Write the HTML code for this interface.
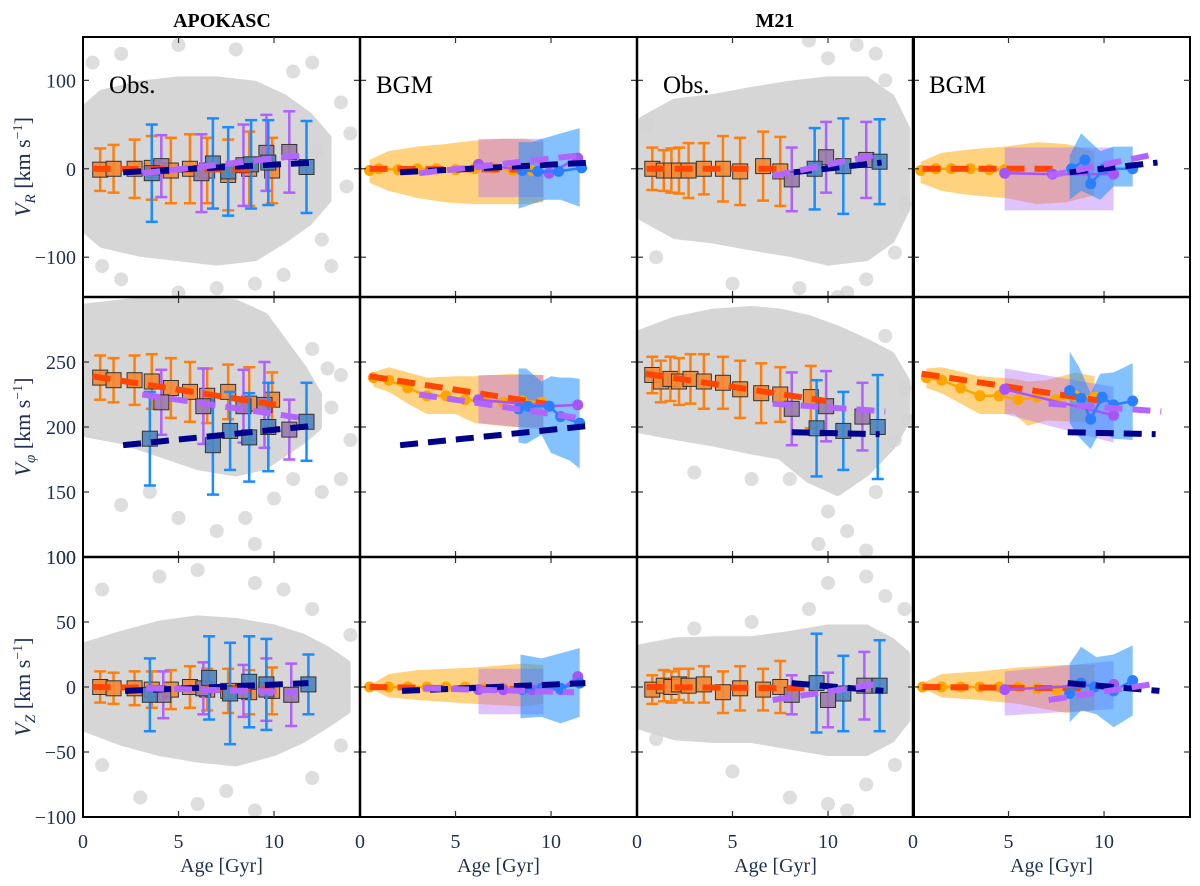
<!DOCTYPE html>
<html><head><meta charset="utf-8"><style>
html,body{margin:0;padding:0;background:#fff;}
svg{display:block;font-family:"Liberation Serif",serif;}
</style></head><body>
<svg id="fig" width="1200" height="886" viewBox="0 0 1200 886" xmlns="http://www.w3.org/2000/svg" font-family="Liberation Serif, serif">
<defs id="defs"></defs>
<g id="panels"></g>
<g id="frames"></g>
<g id="labels" fill="#1f3050" font-size="20">
 <text x="222" y="27" text-anchor="middle" font-weight="bold" fill="#000">APOKASC</text>
 <text x="775" y="27" text-anchor="middle" font-weight="bold" fill="#000">M21</text>
 <text transform="translate(30,167) rotate(-90)" text-anchor="middle" font-size="22"><tspan font-style="italic">V</tspan><tspan font-style="italic" font-size="15" dy="5">R</tspan><tspan dy="-5"> [km s</tspan><tspan font-size="14" dy="-8">−1</tspan><tspan dy="8">]</tspan></text>
 <text transform="translate(30,427) rotate(-90)" text-anchor="middle" font-size="22"><tspan font-style="italic">V</tspan><tspan font-style="italic" font-size="15" dy="5">φ</tspan><tspan dy="-5"> [km s</tspan><tspan font-size="14" dy="-8">−1</tspan><tspan dy="8">]</tspan></text>
 <text transform="translate(30,687) rotate(-90)" text-anchor="middle" font-size="22"><tspan font-style="italic">V</tspan><tspan font-style="italic" font-size="15" dy="5">Z</tspan><tspan dy="-5"> [km s</tspan><tspan font-size="14" dy="-8">−1</tspan><tspan dy="8">]</tspan></text>
</g>
</svg>
<script>
// ---------- data ----------
const xTicks=[0,5,10];
const xTickLabels=["0","5","10"];
const yTicksR=[100,0,-100]; const yTickLabelsR=["100","0","−100"];
const yTicksP=[250,200,150,100]; const yTickLabelsP=["250","200","150","100"];
const yTicksZ=[100,50,0,-50,-100]; const yTickLabelsZ=["100","50","0","−50","−100"];

// APOKASC obs VR
const aR_orAge=[0.9,1.6,2.7,3.6,4.6,5.6,6.5,7.6,8.7,9.9];
const aR_orVal=[-1,0,0,1,-2,0,-2,-7,0,-2];
const aR_orErr=[24,27,33,36,37,39,37,40,42,37];
const aR_buAge=[3.6,6.8,7.6,8.8,9.7,11.7];
const aR_buVal=[-5,6,-3,5,7,2];
const aR_buErr=[55,51,50,50,48,52];
const aR_puAge=[4.1,6.2,8.4,9.6,10.8];
const aR_puVal=[3,-5,4,18,19];
const aR_puErr=[35,44,46,43,46];
const aR_envAge=[0.2,1,3,5,7,9,10.5,11.8,12.8];
const aR_envHi=[70,85,95,100,100,95,80,60,35];
const aR_envLo=[-70,-85,-95,-100,-105,-100,-80,-60,-35];
const aR_outAge=[0.5,2,5,8,12,13.5,12.5,13,2,5,9,10.5,14,1,7,11,13.8,12.2];
const aR_outVal=[120,130,140,135,120,75,-80,-110,-125,-140,-130,-120,40,-110,-135,110,-20,20];
const fitApoR_or=[[0.5,0],[8.9,-1]];
const fitApoR_nv=[[2.1,-4],[12.1,7]];
const fitApoR_pu=[[3.1,-5],[11.4,15]];
// APOKASC BGM VR
const bR_orBandAge=[0.5,1.5,3,4.5,6,7.5,8.5,9.6];
const bR_orBandHi=[10,20,25,28,32,34,34,30];
const bR_orBandLo=[-16,-25,-33,-38,-40,-40,-40,-38];
const bR_orLineAge=[0.5,1,2,3,4,5,6,7,8,9];
const bR_orLineVal=[-2,0,-1,0,0,-1,0,1,-2,-2];
const bR_puBandAge=[6.2,9.6]; const bR_puBandHi=[34,34]; const bR_puBandLo=[-32,-32];
const bR_buBandAge=[8.3,9.0,9.7,10.5,11.5];
const bR_buBandHi=[30,30,35,40,46];
const bR_buBandLo=[-45,-40,-35,-35,-43];
const bR_puLineAge=[6.2,9.9,11.4]; const bR_puLineVal=[5,-5,12];
const bR_buLineAge=[8.5,9.3,10.4,11.6]; const bR_buLineVal=[-2,-3,-3,1];

// M21 obs VR
const cR_orAge=[0.8,1.4,1.8,2.2,2.7,3.5,4.5,5.4,6.6,7.5];
const cR_orVal=[0,-2,-2,-2,-2,0,0,-3,3,-3];
const cR_orErr=[24,23,25,26,31,29,37,38,39,39];
const cR_buAge=[9.3,10.8,12.7]; const cR_buVal=[0,3,8]; const cR_buErr=[46,54,48];
const cR_puAge=[8.1,9.9,12.0]; const cR_puVal=[-12,13,10]; const cR_puErr=[36,40,43];
const cR_envAge=[0.3,2,4,6,8,10,12,13.3,14.1];
const cR_envHi=[55,75,80,88,95,100,100,80,45];
const cR_envLo=[-55,-75,-80,-88,-95,-105,-100,-80,-45];
const cR_outAge=[9,11.5,10,13,14,12,8.5,11,1,0.5,13.5,5,10.5,12.5];
const cR_outVal=[145,140,125,100,-40,-125,-135,-140,-100,50,-95,-130,-145,130];
const fitM21R_or=[[0.5,0],[7.8,0]];
const fitM21R_nv=[[8.2,-4],[12.8,7]];
const fitM21R_pu=[[7.1,-8],[12.8,17]];
// M21 BGM VR
const dR_orBandAge=[0.4,1.5,3,4.8,6.5,8,9.5];
const dR_orBandHi=[8,18,22,25,30,28,20];
const dR_orBandLo=[-16,-25,-30,-33,-40,-38,-30];
const dR_orLineAge=[0.4,1.2,2,3,4,4.8]; const dR_orLineVal=[-2,0,0,0,-1,-1];
const dR_puBandAge=[4.8,10.5]; const dR_puBandHi=[24,24]; const dR_puBandLo=[-47,-47];
const dR_buBandAge=[8.2,8.8,9.3,9.8,10.5,11.5];
const dR_buBandHi=[15,40,30,20,25,25];
const dR_buBandLo=[-35,-25,-30,-35,-20,-20];
const dR_buLineAge=[8.3,9.0,9.3,10.0,11.5]; const dR_buLineVal=[0,10,-17,0,0];
const dR_puLineAge=[4.8,7.3,10.5]; const dR_puLineVal=[-5,-6,-6];

// APOKASC obs Vphi
const aP_orAge=[0.9,1.6,2.7,3.6,4.6,5.6,6.5,7.6,8.7,9.9];
const aP_orVal=[238,236,236,235,230,227,224,227,218,221];
const aP_orErr=[17,17,19,21,23,23,21,21,28,21];
const aP_buAge=[3.5,6.8,7.7,8.7,9.7,11.7];
const aP_buVal=[191,186,197,192,200,204];
const aP_buErr=[36,38,30,34,34,30];
const aP_puAge=[4.1,6.3,8.4,9.5,10.8];
const aP_puVal=[219,216,216,217,198];
const aP_puErr=[25,29,28,33,23];
const aP_envAge=[0.2,2,4,6,8,9.5,10.5,11.5,12.3];
const aP_envHi=[292,295,298,298,295,285,265,245,225];
const aP_envLo=[195,190,180,170,165,170,180,190,200];
const aP_outAge=[12,13.5,14,11,12.5,2,5,7,9,13.5,11.5,3.5,8.5,10,13,12.8];
const aP_outVal=[260,240,190,160,150,140,130,120,110,160,230,150,130,145,215,245];
const fitApoP_or=[[0.5,239],[10.1,217]];
const fitApoP_nv=[[2.1,186],[12.1,201]];
const fitApoP_pu=[[3.1,225],[11.4,207]];
// APOKASC BGM Vphi
const bP_orBandAge=[0.7,1.5,2.5,3.5,5,6,8,9.6];
const bP_orBandHi=[242,246,242,238,239,239,241,240];
const bP_orBandLo=[231,227,218,210,210,203,200,200];
const bP_orLineAge=[0.7,1.5,2.5,3.5,4.5,5.5,6.5,7.5,8.5,9.5];
const bP_orLineVal=[238,236,230,224,224,221,220,219,220,219];
const bP_puBandAge=[6.2,9.6]; const bP_puBandHi=[240,240]; const bP_puBandLo=[203,198];
const bP_buBandAge=[8.3,8.7,9.5,10,10.5,11,11.5];
const bP_buBandHi=[245,245,235,239,238,238,237];
const bP_buBandLo=[188,187,194,180,177,174,168];
const bP_buLineAge=[8.3,8.8,9.9,10.5,11.5]; const bP_buLineVal=[214,216,216,208,203];
const bP_puLineAge=[6.2,9.9,11.4]; const bP_puLineVal=[221,216,217];

// M21 obs Vphi
const cP_orAge=[0.8,1.25,1.75,2.2,2.8,3.5,4.5,5.4,6.5,7.5,9.1];
const cP_orVal=[240,235,237,235,237,235,234,229,226,225,223];
const cP_orErr=[14,16,17,18,19,21,20,22,23,21,24];
const cP_puAge=[8.1,9.9,11.8]; const cP_puVal=[214,216,208]; const cP_puErr=[28,27,26];
const cP_buAge=[9.4,10.8,12.6]; const cP_buVal=[199,197,200]; const cP_buErr=[37,30,40];
const cP_envAge=[0.2,2,4,6,7.5,9,10.5,12,13.3,14.1];
const cP_envHi=[272,282,288,290,288,283,275,265,255,235];
const cP_envLo=[198,193,188,182,178,160,150,165,185,205];
const cP_outAge=[13,14,13.5,10,11,9.5,12.5,3,6,12,14.2,8];
const cP_outVal=[270,230,190,135,120,110,150,165,160,105,205,160];
const fitM21P_or=[[0.45,241],[9.9,220]];
const fitM21P_nv=[[8.1,196],[12.7,194.5]];
const fitM21P_pu=[[7.1,218],[13,212]];
// M21 BGM Vphi
const dP_orBandAge=[0.7,1.5,3.5,5.3,6,7,8.5,9.5];
const dP_orBandHi=[245,246,239,237,235,236,242,239];
const dP_orBandLo=[230,226,210,210,201,205,204,203];
const dP_orLineAge=[0.7,1.5,2.5,3.5,4.5,5.5,6.5,7.5,8.5,9.5];
const dP_orLineVal=[238,236,230,224,224,221,223,221,224,223];
const dP_puBandAge=[4.8,10.5]; const dP_puBandHi=[245,231]; const dP_puBandLo=[210,188];
const dP_buBandAge=[8.2,8.7,9.3,9.8,10.5,11.5];
const dP_buBandHi=[258,246,226,241,242,249];
const dP_buBandLo=[203,192,183,197,191,190];
const dP_buLineAge=[8.2,8.8,9.3,9.9,10.5,11.5]; const dP_buLineVal=[228,222,206,223,217,220];
const dP_puLineAge=[4.8,10.5]; const dP_puLineVal=[229,209];

// APOKASC obs VZ
const aZ_orAge=[0.9,1.6,2.7,3.6,4.6,5.6,6.5,7.6,8.7,9.9];
const aZ_orVal=[0,-1,-1,-2,-2,0,-2,-3,-4,-3];
const aZ_orErr=[12,12,13,14,15,16,16,17,17,18];
const aZ_buAge=[3.5,6.6,7.7,8.7,9.6,11.8];
const aZ_buVal=[-6,7,-5,4,2,2];
const aZ_buErr=[28,32,39,35,35,23];
const aZ_puAge=[4.2,6.3,8.4,9.6,10.9];
const aZ_puVal=[-6,-1,-3,-2,-6];
const aZ_puErr=[18,20,20,24,24];
const aZ_envAge=[0.2,2,4,6,8,10,11.5,12.8,13.8];
const aZ_envHi=[32,40,48,52,50,45,38,28,18];
const aZ_envLo=[-32,-42,-50,-55,-58,-50,-40,-28,-18];
const aZ_outAge=[1,4,6,9,12,14,1,3,6,9,12,13.5,7.5,10.5];
const aZ_outVal=[75,85,90,80,60,40,-60,-85,-90,-95,-70,-45,-80,75];
const fitApoZ_or=[[0.5,0],[9.9,-2]];
const fitApoZ_nv=[[2.2,-3],[11.8,3]];
const fitApoZ_pu=[[3.3,-1],[11.2,-4]];
// APOKASC BGM VZ
const bZ_orBandAge=[0.5,1.5,3,6,8.5,9.6];
const bZ_orBandHi=[1,10,13,15,18,17];
const bZ_orBandLo=[-1,-8,-10,-13,-15,-13];
const bZ_orLineAge=[0.5,1.5,2.5,3.5,4.5,5.5,6.5,7.5,8.5];
const bZ_orLineVal=[0,0,0,0,0,0,-1,-1,-1];
const bZ_puBandAge=[6.2,9.6]; const bZ_puBandHi=[14,14]; const bZ_puBandLo=[-21,-21];
const bZ_buBandAge=[8.4,9.5,10.5,11.5];
const bZ_buBandHi=[25,22,26,30];
const bZ_buBandLo=[-24,-23,-28,-23];
const bZ_puLineAge=[6.2,7.5,9,10.5,11.4]; const bZ_puLineVal=[-2,-2,-2,-2,8];
const bZ_buLineAge=[8.5,9.5,10.5,11.5]; const bZ_buLineVal=[-2,-1,-1,3];

// M21 obs VZ
const cZ_orAge=[0.8,1.4,1.8,2.2,2.7,3.5,4.5,5.4,6.6,7.5];
const cZ_orVal=[-2,1,0,2,1,2,-4,-1,-2,0];
const cZ_orErr=[11,12,12,12,13,14,16,17,16,20];
const cZ_buAge=[9.4,10.8,12.7]; const cZ_buVal=[3,-5,1]; const cZ_buErr=[38,29,35];
const cZ_puAge=[8.1,10.0,11.9]; const cZ_puVal=[-6,-10,1]; const cZ_puErr=[15,21,26];
const cZ_envAge=[0.2,2,4,6,8,10,12,13.3,14.1];
const cZ_envHi=[30,35,36,36,40,45,45,35,25];
const cZ_envLo=[-30,-38,-40,-40,-45,-50,-50,-40,-25];
const cZ_outAge=[10,12,13,9,6,3,12,10,8,13.5,5,1,11,14];
const cZ_outVal=[80,85,70,60,50,45,-75,-90,-85,-60,-65,-40,-95,60];
const fitM21Z_or=[[0.5,0],[8.8,-1]];
const fitM21Z_nv=[[8.1,3],[12.9,-3]];
const fitM21Z_pu=[[7.1,-10],[12.9,3]];
// M21 BGM VZ
const dZ_orBandAge=[0.5,1.5,3.5,5.5,8,9.5];
const dZ_orBandHi=[3,10,12,15,17,17];
const dZ_orBandLo=[-1,-8,-10,-13,-20,-18];
const dZ_orLineAge=[0.5,1.5,2.5,3.5,4.5,5.5,6.5,7.5];
const dZ_orLineVal=[0,0,0,0,0,0,-1,-2];
const dZ_puBandAge=[4.8,10.5]; const dZ_puBandHi=[12,20]; const dZ_puBandLo=[-22,-17];
const dZ_buBandAge=[8.2,8.8,9.6,10.5,11.5];
const dZ_buBandHi=[18,31,23,25,32];
const dZ_buBandLo=[-27,-18,-21,-31,-22];
const dZ_buLineAge=[8.2,8.8,9.5,10.5,11.5]; const dZ_buLineVal=[-5,3,0,-3,5];
const dZ_puLineAge=[4.8,10.5]; const dZ_puLineVal=[-2,2];

// ---------- layout ----------
const NS="http://www.w3.org/2000/svg";
const colLeft=[83,360,637,913], panelW=277, xMax=14.5;
const rowTop=[37,297,557], panelH=260;
const yMin=[-145,100,-100], yMax=[149,300,100];
const sx=(c,a)=>colLeft[c]+a/xMax*panelW;
const sy=(r,v)=>rowTop[r]+(yMax[r]-v)/(yMax[r]-yMin[r])*panelH;
const C={orBar:"#ff7f0e",orSq:"#f28a35",buBar:"#1a8cff",buSq:"#4d84bd",puBar:"#b060ff",puSq:"#9a7aaa",
 fitOr:"#ff4500",fitNv:"#00008b",fitPu:"#b266ff",orBand:"#ffa500",puBand:"#b266ff",buBand:"#1e90ff",orLine:"#ffa500",puLine:"#a855f7",buLine:"#2b7fff",grey:"#d6d6d6"};
const root=document.getElementById('panels'), defs=document.getElementById('defs'), frames=document.getElementById('frames');
function mk(tag,attrs,parent){const e=document.createElementNS(NS,tag);for(const k in attrs)e.setAttribute(k,attrs[k]);parent.appendChild(e);return e;}

function envelope(g,c,r,age,hi,lo){
  const pts=age.map((a,i)=>sx(c,a)+","+sy(r,hi[i])).concat(age.slice().reverse().map((a,j)=>{const i=age.length-1-j;return sx(c,a)+","+sy(r,lo[i]);}));
  const p=mk('polygon',{points:pts.join(' '),fill:C.grey,stroke:C.grey,'stroke-width':8,'stroke-linejoin':'round'},g);
  
  
}
function outliers(g,c,r,age,val){
  age.forEach((a,i)=>{const e=mk('circle',{cx:sx(c,a),cy:sy(r,val[i]),r:7,fill:"#d3d3d3",'fill-opacity':0.75},g);
    
    });
}
function errSquares(g,c,r,age,val,err,bar,sq,name){
  age.forEach((a,i)=>{
    const x=sx(c,a),y0=sy(r,val[i]+err[i]),y1=sy(r,val[i]-err[i]),y=sy(r,val[i]);
    const gg=mk('g',{},g);
    
    
    mk('line',{x1:x,x2:x,y1:y0,y2:y1,stroke:bar,'stroke-width':2.5},gg);
    mk('line',{x1:x-6,x2:x+6,y1:y0,y2:y0,stroke:bar,'stroke-width':2.5},gg);
    mk('line',{x1:x-6,x2:x+6,y1:y1,y2:y1,stroke:bar,'stroke-width':2.5},gg);
    mk('rect',{x:x-7.5,y:y-7.5,width:15,height:15,fill:sq,'fill-opacity':0.9,stroke:'#333','stroke-width':1},gg);
  });
}
function fit(g,c,r,pts,col,name){
  const l=mk('line',{x1:sx(c,pts[0][0]),y1:sy(r,pts[0][1]),x2:sx(c,pts[1][0]),y2:sy(r,pts[1][1]),stroke:col,'stroke-width':6,'stroke-dasharray':'18 10'},g);
  
  
}
function band(g,c,r,age,hi,lo,col,op,name){
  const pts=age.map((a,i)=>sx(c,a)+","+sy(r,hi[i])).concat(age.map((a,i)=>sx(c,a)+","+sy(r,lo[i])).reverse());
  const p=mk('polygon',{points:pts.join(' '),fill:col,'fill-opacity':op},g);
  
  
}
function line(g,c,r,age,val,col,name){
  const p=mk('polyline',{points:age.map((a,i)=>sx(c,a)+","+sy(r,val[i])).join(' '),fill:'none',stroke:col,'stroke-width':2.5},g);
  
  
  age.forEach((a,i)=>{const d=mk('circle',{cx:sx(c,a),cy:sy(r,val[i]),r:5.5,fill:col},g);
    
    });
}
function panelGroup(c,r,name){
  const id='clip'+c+r;
  const cp=mk('clipPath',{id:id},defs);
  mk('rect',{x:colLeft[c],y:rowTop[r],width:panelW,height:panelH},cp);
  const g=mk('g',{'clip-path':'url(#'+id+')'},root);
  
  
  return g;
}
function obsPanel(c,r,name,d,fits){
  const g=panelGroup(c,r,name);
  envelope(g,c,r,d.envAge,d.envHi,d.envLo);
  outliers(g,c,r,d.outAge,d.outVal);
  errSquares(g,c,r,d.orAge,d.orVal,d.orErr,C.orBar,C.orSq,'orange-bin');
  errSquares(g,c,r,d.puAge,d.puVal,d.puErr,C.puBar,C.puSq,'purple-bin');
  errSquares(g,c,r,d.buAge,d.buVal,d.buErr,C.buBar,C.buSq,'blue-bin');
  fit(g,c,r,fits[0],C.fitOr,'orange-fit-line');
  fit(g,c,r,fits[1],C.fitNv,'navy-fit-line');
  fit(g,c,r,fits[2],C.fitPu,'purple-fit-line');
}
function bgmPanel(c,r,name,d,fits){
  const g=panelGroup(c,r,name);
  band(g,c,r,d.orBandAge,d.orBandHi,d.orBandLo,C.orBand,0.5,'orange-band');
  band(g,c,r,d.puBandAge,d.puBandHi,d.puBandLo,C.puBand,0.4,'purple-band');
  band(g,c,r,d.buBandAge,d.buBandHi,d.buBandLo,C.buBand,0.55,'blue-band');
  line(g,c,r,d.orLineAge,d.orLineVal,C.orLine,'orange-model-line');
  fit(g,c,r,fits[0],C.fitOr,'orange-fit-line');
  line(g,c,r,d.puLineAge,d.puLineVal,C.puLine,'purple-model-line');
  line(g,c,r,d.buLineAge,d.buLineVal,C.buLine,'blue-model-line');
  fit(g,c,r,fits[1],C.fitNv,'navy-fit-line');
  fit(g,c,r,fits[2],C.fitPu,'purple-fit-line');
}
obsPanel(0,0,'apokasc-obs-vr',{envAge:aR_envAge,envHi:aR_envHi,envLo:aR_envLo,outAge:aR_outAge,outVal:aR_outVal,orAge:aR_orAge,orVal:aR_orVal,orErr:aR_orErr,buAge:aR_buAge,buVal:aR_buVal,buErr:aR_buErr,puAge:aR_puAge,puVal:aR_puVal,puErr:aR_puErr},[fitApoR_or,fitApoR_nv,fitApoR_pu]);
obsPanel(2,0,'m21-obs-vr',{envAge:cR_envAge,envHi:cR_envHi,envLo:cR_envLo,outAge:cR_outAge,outVal:cR_outVal,orAge:cR_orAge,orVal:cR_orVal,orErr:cR_orErr,buAge:cR_buAge,buVal:cR_buVal,buErr:cR_buErr,puAge:cR_puAge,puVal:cR_puVal,puErr:cR_puErr},[fitM21R_or,fitM21R_nv,fitM21R_pu]);
obsPanel(0,1,'apokasc-obs-vphi',{envAge:aP_envAge,envHi:aP_envHi,envLo:aP_envLo,outAge:aP_outAge,outVal:aP_outVal,orAge:aP_orAge,orVal:aP_orVal,orErr:aP_orErr,buAge:aP_buAge,buVal:aP_buVal,buErr:aP_buErr,puAge:aP_puAge,puVal:aP_puVal,puErr:aP_puErr},[fitApoP_or,fitApoP_nv,fitApoP_pu]);
obsPanel(2,1,'m21-obs-vphi',{envAge:cP_envAge,envHi:cP_envHi,envLo:cP_envLo,outAge:cP_outAge,outVal:cP_outVal,orAge:cP_orAge,orVal:cP_orVal,orErr:cP_orErr,buAge:cP_buAge,buVal:cP_buVal,buErr:cP_buErr,puAge:cP_puAge,puVal:cP_puVal,puErr:cP_puErr},[fitM21P_or,fitM21P_nv,fitM21P_pu]);
obsPanel(0,2,'apokasc-obs-vz',{envAge:aZ_envAge,envHi:aZ_envHi,envLo:aZ_envLo,outAge:aZ_outAge,outVal:aZ_outVal,orAge:aZ_orAge,orVal:aZ_orVal,orErr:aZ_orErr,buAge:aZ_buAge,buVal:aZ_buVal,buErr:aZ_buErr,puAge:aZ_puAge,puVal:aZ_puVal,puErr:aZ_puErr},[fitApoZ_or,fitApoZ_nv,fitApoZ_pu]);
obsPanel(2,2,'m21-obs-vz',{envAge:cZ_envAge,envHi:cZ_envHi,envLo:cZ_envLo,outAge:cZ_outAge,outVal:cZ_outVal,orAge:cZ_orAge,orVal:cZ_orVal,orErr:cZ_orErr,buAge:cZ_buAge,buVal:cZ_buVal,buErr:cZ_buErr,puAge:cZ_puAge,puVal:cZ_puVal,puErr:cZ_puErr},[fitM21Z_or,fitM21Z_nv,fitM21Z_pu]);
bgmPanel(1,0,'apokasc-bgm-vr',{orBandAge:bR_orBandAge,orBandHi:bR_orBandHi,orBandLo:bR_orBandLo,orLineAge:bR_orLineAge,orLineVal:bR_orLineVal,puBandAge:bR_puBandAge,puBandHi:bR_puBandHi,puBandLo:bR_puBandLo,buBandAge:bR_buBandAge,buBandHi:bR_buBandHi,buBandLo:bR_buBandLo,puLineAge:bR_puLineAge,puLineVal:bR_puLineVal,buLineAge:bR_buLineAge,buLineVal:bR_buLineVal},[fitApoR_or,fitApoR_nv,fitApoR_pu]);
bgmPanel(3,0,'m21-bgm-vr',{orBandAge:dR_orBandAge,orBandHi:dR_orBandHi,orBandLo:dR_orBandLo,orLineAge:dR_orLineAge,orLineVal:dR_orLineVal,puBandAge:dR_puBandAge,puBandHi:dR_puBandHi,puBandLo:dR_puBandLo,buBandAge:dR_buBandAge,buBandHi:dR_buBandHi,buBandLo:dR_buBandLo,puLineAge:dR_puLineAge,puLineVal:dR_puLineVal,buLineAge:dR_buLineAge,buLineVal:dR_buLineVal},[fitM21R_or,fitM21R_nv,fitM21R_pu]);
bgmPanel(1,1,'apokasc-bgm-vphi',{orBandAge:bP_orBandAge,orBandHi:bP_orBandHi,orBandLo:bP_orBandLo,orLineAge:bP_orLineAge,orLineVal:bP_orLineVal,puBandAge:bP_puBandAge,puBandHi:bP_puBandHi,puBandLo:bP_puBandLo,buBandAge:bP_buBandAge,buBandHi:bP_buBandHi,buBandLo:bP_buBandLo,puLineAge:bP_puLineAge,puLineVal:bP_puLineVal,buLineAge:bP_buLineAge,buLineVal:bP_buLineVal},[fitApoP_or,fitApoP_nv,fitApoP_pu]);
bgmPanel(3,1,'m21-bgm-vphi',{orBandAge:dP_orBandAge,orBandHi:dP_orBandHi,orBandLo:dP_orBandLo,orLineAge:dP_orLineAge,orLineVal:dP_orLineVal,puBandAge:dP_puBandAge,puBandHi:dP_puBandHi,puBandLo:dP_puBandLo,buBandAge:dP_buBandAge,buBandHi:dP_buBandHi,buBandLo:dP_buBandLo,puLineAge:dP_puLineAge,puLineVal:dP_puLineVal,buLineAge:dP_buLineAge,buLineVal:dP_buLineVal},[fitM21P_or,fitM21P_nv,fitM21P_pu]);
bgmPanel(1,2,'apokasc-bgm-vz',{orBandAge:bZ_orBandAge,orBandHi:bZ_orBandHi,orBandLo:bZ_orBandLo,orLineAge:bZ_orLineAge,orLineVal:bZ_orLineVal,puBandAge:bZ_puBandAge,puBandHi:bZ_puBandHi,puBandLo:bZ_puBandLo,buBandAge:bZ_buBandAge,buBandHi:bZ_buBandHi,buBandLo:bZ_buBandLo,puLineAge:bZ_puLineAge,puLineVal:bZ_puLineVal,buLineAge:bZ_buLineAge,buLineVal:bZ_buLineVal},[fitApoZ_or,fitApoZ_nv,fitApoZ_pu]);
bgmPanel(3,2,'m21-bgm-vz',{orBandAge:dZ_orBandAge,orBandHi:dZ_orBandHi,orBandLo:dZ_orBandLo,orLineAge:dZ_orLineAge,orLineVal:dZ_orLineVal,puBandAge:dZ_puBandAge,puBandHi:dZ_puBandHi,puBandLo:dZ_puBandLo,buBandAge:dZ_buBandAge,buBandHi:dZ_buBandHi,buBandLo:dZ_buBandLo,puLineAge:dZ_puLineAge,puLineVal:dZ_puLineVal,buLineAge:dZ_buLineAge,buLineVal:dZ_buLineVal},[fitM21Z_or,fitM21Z_nv,fitM21Z_pu]);

// ---------- frames, ticks, labels ----------
const yT=[yTicksR,yTicksP,yTicksZ], yTL=[yTickLabelsR,yTickLabelsP,yTickLabelsZ];
for(let r=0;r<3;r++)for(let c=0;c<4;c++){
  const f=mk('rect',{x:colLeft[c],y:rowTop[r],width:panelW,height:panelH,fill:'none',stroke:'#000','stroke-width':2},frames);
  
  
  xTicks.forEach(t=>{const x=sx(c,t);
    if(t>0){mk('line',{x1:x,x2:x,y1:rowTop[r],y2:rowTop[r]+6,stroke:'#333','stroke-width':1.2},frames);
    mk('line',{x1:x,x2:x,y1:rowTop[r]+panelH,y2:rowTop[r]+panelH-6,stroke:'#333','stroke-width':1.2},frames);}});
  yT[r].forEach(t=>{const y=sy(r,t); if(y<=rowTop[r]+1||y>=rowTop[r]+panelH-1)return;
    mk('line',{x1:colLeft[c],x2:colLeft[c]+6,y1:y,y2:y,stroke:'#333','stroke-width':1.2},frames);
    mk('line',{x1:colLeft[c]+panelW,x2:colLeft[c]+panelW-6,y1:y,y2:y,stroke:'#333','stroke-width':1.2},frames);});
}
const lab=document.getElementById('labels');
for(let r=0;r<3;r++){
  yT[r].forEach((t,i)=>{const e=mk('text',{x:76,y:sy(r,t)+7,'text-anchor':'end'},lab);e.textContent=yTL[r][i];
    
    });
}
for(let c=0;c<4;c++){
  xTicks.forEach((t,i)=>{const e=mk('text',{x:sx(c,t),y:848,'text-anchor':'middle'},lab);e.textContent=xTickLabels[i];
    
    });
  const a=mk('text',{x:colLeft[c]+panelW/2,y:872,'text-anchor':'middle'},lab);a.textContent='Age [Gyr]';
  
  
  const t=mk('text',{x:colLeft[c]+(c%2===0?26:16),y:rowTop[0]+56,'font-size':'25',fill:'#000'},lab);
  t.textContent=c%2===0?'Obs.':'BGM';
  
  
}
[360,637,913].forEach(x=>mk('line',{x1:x,x2:x,y1:37,y2:818,stroke:'#000','stroke-width':2.5},frames));
[297,557].forEach(y=>mk('line',{x1:83,x2:1190,y1:y,y2:y,stroke:'#000','stroke-width':2.5},frames));
</script>
</body></html>
